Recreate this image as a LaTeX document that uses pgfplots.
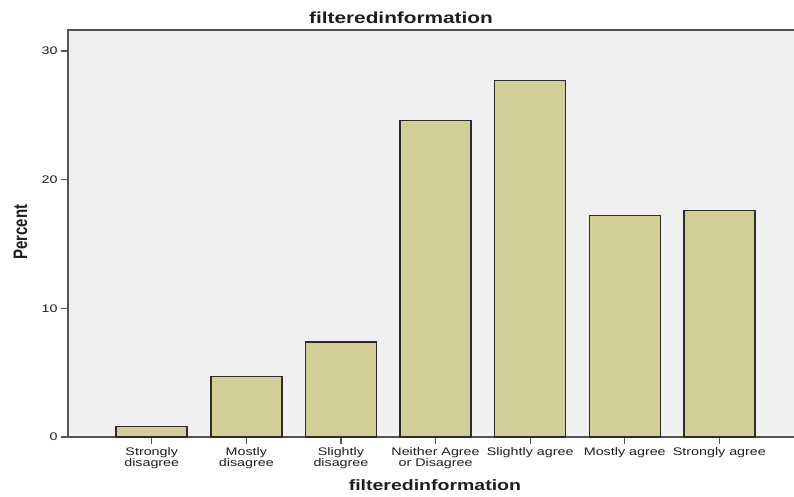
\documentclass[border=0pt]{standalone}
\usepackage{fontspec}
\setmainfont{Liberation Sans}
\usepackage{graphicx}
\usepackage{pgfplots}
\pgfplotsset{compat=1.18}

% SPSS style colours
\definecolor{plotbg}{RGB}{240,240,240}
\definecolor{barfill}{RGB}{211,206,151}
\definecolor{barline}{RGB}{45,45,40}
\definecolor{axline}{RGB}{85,85,85}
\definecolor{txt}{RGB}{30,30,30}

% the reference is stretched sideways
\newcommand\sx[1]{\scalebox{1.3}[1]{#1}}

\begin{document}
\begin{tikzpicture}
\path[use as bounding box] (-68pt,-59pt) rectangle (726pt,437pt);
\begin{axis}[
    at={(0pt,0pt)}, anchor=south west,
    scale only axis,
    width=728pt, height=407pt,
    xmin=0.115, xmax=7.81,
    ymin=0, ymax=31.63,
    axis background/.style={fill=plotbg},
    axis line style={axline, line width=1.3pt},
    ybar, bar width=71pt,
    xtick={1,2,3,4,5,6,7},
    xticklabels={
        {\sx{Strongly}\\\sx{disagree}},
        {\sx{Mostly}\\\sx{disagree}},
        {\sx{Slightly}\\\sx{disagree}},
        {\sx{Neither Agree}\\\sx{or Disagree}},
        {\sx{Slightly agree}},
        {\sx{Mostly agree}},
        {\sx{Strongly agree}}},
    ytick={0,10,20,30},
    yticklabel={\sx{\pgfmathprintnumber{\tick}}},
    /pgf/number format/assume math mode=true,
    tick pos=left,
    tick align=outside,
    major tick length=7pt,
    tick style={axline, line width=1.2pt},
    xticklabel style={align=center, anchor=north, text=txt,
        font=\fontsize{11}{10.5}\selectfont},
    yticklabel style={anchor=east, text=txt,
        font=\fontsize{11}{12}\selectfont},
    title={\sx{filteredinformation}},
    title style={at={(0.4574,1)}, anchor=base, yshift=0pt,
        font=\fontsize{16}{18}\selectfont\bfseries, text=txt},
    xlabel={\sx{filteredinformation}},
    xlabel style={at={(0.504,0)}, anchor=base, yshift=-53pt,
        font=\fontsize{15}{17}\selectfont\bfseries, text=txt},
    ylabel={\scalebox{1}[1.3]{Percent}},
    ylabel style={at={(-0.0563,0.503)}, anchor=base,
        font=\fontsize{15}{17}\selectfont\bfseries, text=txt},
]
\addplot[fill=barfill, draw=barline, line width=1.5pt] coordinates {
    (1,0.8) (2,4.7) (3,7.4) (4,24.6) (5,27.7) (6,17.2) (7,17.6)
};
\end{axis}
\end{tikzpicture}
\end{document}
